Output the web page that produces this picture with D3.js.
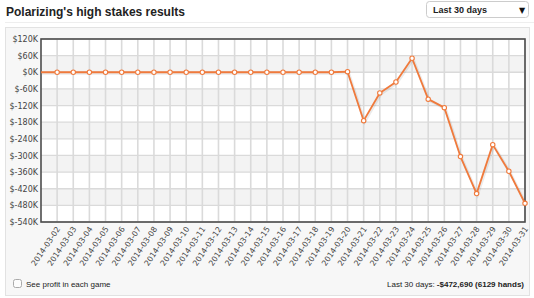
<!DOCTYPE html>
<html><head><meta charset="utf-8">
<script src="https://cdn.jsdelivr.net/npm/d3@7"></script>
<style>html,body{margin:0;padding:0;background:#fff;}svg{display:block;}</style>
</head><body>
<svg id="c" width="534" height="298"></svg>
<script>
const dates = ["2014-03-01","2014-03-02","2014-03-03","2014-03-04","2014-03-05","2014-03-06","2014-03-07","2014-03-08","2014-03-09","2014-03-10","2014-03-11","2014-03-12","2014-03-13","2014-03-14","2014-03-15","2014-03-16","2014-03-17","2014-03-18","2014-03-19","2014-03-20","2014-03-21","2014-03-22","2014-03-23","2014-03-24","2014-03-25","2014-03-26","2014-03-27","2014-03-28","2014-03-29","2014-03-30","2014-03-31"];
const tickLabels = dates.slice(1);
// cumulative profit in $K
const profit = [0,0,0,0,0,0,0,0,0,0,0,0,0,0,0,0,0,0,0,2,-174.5,-74.6,-35,50.5,-97,-127.6,-304,-437.6,-261,-357,-472.69];
const yTicks = [120,60,0,-60,-120,-180,-240,-300,-360,-420,-480,-540];
const title = "Polarizing's high stakes results";
const rangeLabel = "Last 30 days";
const checkboxLabel = "See profit in each game";
const summaryLead = "Last 30 days: ";
const summaryValue = "-$472,690 (6129 hands)";

const svg = d3.select("#c");
const L = 41, R = 525, T = 39, B = 222;
const orange = "#f07a3c";

// title
svg.append("text").attr("x",6).attr("y",16).attr("font-family","Liberation Sans, Arial, sans-serif")
  .attr("font-weight","bold").attr("font-size",12).attr("fill","#222").text(title);
svg.append("line").attr("x1",5).attr("x2",534).attr("y1",22.5).attr("y2",22.5).attr("stroke","#eee");

// dropdown
const dd = svg.append("g");
dd.append("rect").attr("x",426.5).attr("y",1.5).attr("width",102).attr("height",16).attr("rx",3)
  .attr("fill","#fff").attr("stroke","#ccc");
dd.append("text").attr("x",433).attr("y",13).attr("font-family","Liberation Sans, Arial, sans-serif")
  .attr("font-weight","bold").attr("font-size",9).attr("fill","#222").text(rangeLabel);
dd.append("text").attr("x",522).attr("y",13).attr("text-anchor","middle").attr("font-family","DejaVu Sans, sans-serif")
  .attr("font-size",8).attr("fill","#111").text("\u25BC");

// panel
svg.append("rect").attr("x",5.5).attr("y",27.5).attr("width",524).attr("height",268)
  .attr("fill","#f7f7f7").attr("stroke","#e2e2e2");

const x = d3.scalePoint().domain(dates).range([L,R]);
const y = d3.scaleLinear().domain([-540,120]).range([B,T]);

// plot background + bands
svg.append("rect").attr("x",L).attr("y",T).attr("width",R-L).attr("height",B-T).attr("fill","#fff");
const bands = yTicks.slice(0,-1).map((v,i)=>({top:v,bottom:yTicks[i+1],i}));
svg.append("g").selectAll("rect").data(bands.filter(b=>b.i%2===1)).join("rect")
  .attr("x",L).attr("width",R-L).attr("y",d=>y(d.top)).attr("height",d=>y(d.bottom)-y(d.top)).attr("fill","#f3f3f3");

// grid
svg.append("g").selectAll("line").data(yTicks).join("line")
  .attr("x1",L).attr("x2",R).attr("y1",d=>y(d)).attr("y2",d=>y(d)).attr("stroke","#dadada").attr("stroke-width",1.3);
svg.append("g").selectAll("line").data(tickLabels).join("line")
  .attr("x1",d=>x(d)).attr("x2",d=>x(d)).attr("y1",T).attr("y2",B).attr("stroke","#dadada").attr("stroke-width",1.6);

// y axis labels
const yAxis = d3.axisLeft(y).tickValues(yTicks).tickSize(0).tickPadding(3)
  .tickFormat(d=>"$"+d+"K");
const ya = svg.append("g").attr("transform",`translate(${L},0)`).call(yAxis);
ya.select(".domain").remove();
ya.selectAll("text").attr("font-family","DejaVu Sans, Verdana, sans-serif").attr("font-size",8).attr("fill","#444");

// x axis labels
const xAxis = d3.axisBottom(x).tickValues(tickLabels).tickSize(0).tickPadding(0);
const xa = svg.append("g").attr("transform",`translate(0,${B})`).call(xAxis);
xa.select(".domain").remove();
xa.selectAll("text").attr("font-family","DejaVu Sans, Verdana, sans-serif").attr("font-size",7.8).attr("fill","#444")
  .attr("text-anchor","end").attr("dy",0).attr("y",0)
  .attr("transform","translate(3,7) rotate(-56)");

// frame
svg.append("rect").attr("x",L).attr("y",T).attr("width",R-L).attr("height",B-T)
  .attr("fill","none").attr("stroke","#4d4d4d").attr("stroke-width",1.6);

// line
const pts = dates.map((d,i)=>({d,v:profit[i],i}));
const line = d3.line().x(p=>x(p.d)).y(p=>y(p.v));
svg.append("path").datum(pts).attr("d",line).attr("fill","none").attr("stroke","#000")
  .attr("stroke-opacity",0.08).attr("stroke-width",3).attr("transform","translate(1,1)");
svg.append("path").datum(pts).attr("d",line).attr("fill","none").attr("stroke",orange).attr("stroke-width",1.8)
  .attr("stroke-linejoin","round");
svg.append("g").selectAll("circle").data(pts.slice(1)).join("circle")
  .attr("cx",p=>x(p.d)).attr("cy",p=>y(p.v)).attr("r",2.2)
  .attr("fill","#fff").attr("stroke",orange).attr("stroke-width",1.1);

// bottom controls
svg.append("rect").attr("x",13.5).attr("y",279.5).attr("width",8).attr("height",8).attr("rx",2)
  .attr("fill","#fcfcfc").attr("stroke","#aaa");
svg.append("text").attr("x",26).attr("y",287).attr("font-family","Liberation Sans, Arial, sans-serif")
  .attr("font-size",8).attr("fill","#222").text(checkboxLabel);
const st = svg.append("text").attr("x",524).attr("y",287).attr("text-anchor","end")
  .attr("font-family","Liberation Sans, Arial, sans-serif").attr("font-size",8).attr("fill","#222");
st.append("tspan").text(summaryLead);
st.append("tspan").attr("font-weight","bold").text(summaryValue);
</script>
</body></html>
